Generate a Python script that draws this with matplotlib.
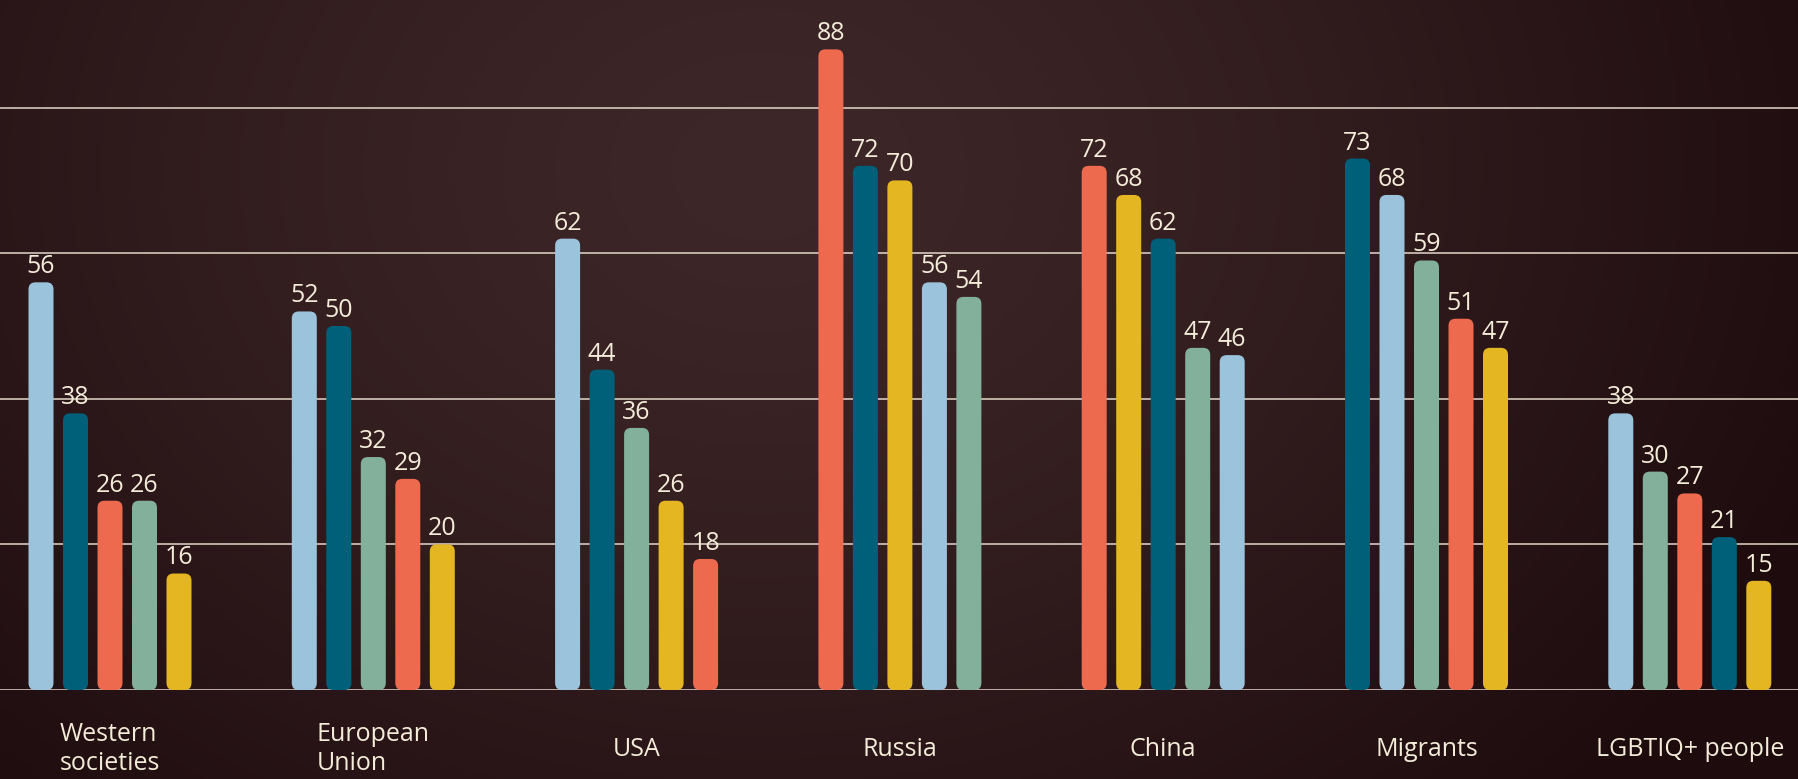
import numpy as np
import matplotlib.pyplot as plt
from matplotlib.patches import FancyBboxPatch

# Données
categories = ["Western\nsocieties", "European\nUnion", "USA", "Russia",
              "China", "Migrants", "LGBTIQ+ people"]
light_blue = [56, 52, 62, 56, 46, 68, 38]
teal = [38, 50, 44, 72, 62, 73, 21]
coral = [26, 29, 18, 88, 72, 51, 27]
sage = [26, 32, 36, 54, 47, 59, 30]
mustard = [16, 20, 26, 70, 68, 47, 15]
grid_values = [0, 20, 40, 60, 80]

series = [light_blue, teal, coral, sage, mustard]
colors = ["#9cc3dc", "#00607a", "#ee6a4e", "#82b09a", "#e3b622"]

W, H, DPI = 1798, 779, 100
px_x = 263.3   # pixels par groupe
px_y = 7.28    # pixels par unité
base_px = 690

plt.rcParams['font.family'] = ['Open Sans', 'DejaVu Sans']
fig = plt.figure(figsize=(W / DPI, H / DPI), dpi=DPI)

# Fond : dégradé radial
bg = fig.add_axes([0, 0, 1, 1])
yy, xx = np.mgrid[0:H, 0:W]
d = np.sqrt(((xx - 760) / 1150) ** 2 + ((yy - 170) / 900) ** 2)
d = np.clip(d, 0, 1)
c_in = np.array([0x3e, 0x27, 0x29]) / 255
c_out = np.array([0x1d, 0x0b, 0x0d]) / 255
img = c_in[None, None, :] * (1 - d[..., None] ** 1.3) + c_out[None, None, :] * d[..., None] ** 1.3
bg.imshow(img, aspect='auto', extent=[0, W, H, 0])
bg.set_axis_off()

# Axe principal
ax = fig.add_axes([0, 1 - base_px / H, 1, base_px / H])
ax.set_facecolor('none')
ax.set_xlim(-110 / px_x, (W - 110) / px_x)
ax.set_ylim(0, base_px / px_y)
ax.set_axis_off()

for g in grid_values:
    ax.axhline(g, color="#e2d8ca", linewidth=1.1, zorder=1)

step = 34.5 / px_x
width = 25 / px_x
radius = 7 / px_x
aspect = px_x / px_y
txt_color = "#f3ecd9"

for i, cat in enumerate(categories):
    vals = [s[i] for s in series]
    order = sorted(range(len(series)), key=lambda k: -vals[k])
    for j, k in enumerate(order):
        xc = i + (j - 2) * step
        v = vals[k]
        p = FancyBboxPatch((xc - width / 2, 0), width, v,
                           boxstyle=f"round,pad=0,rounding_size={radius}",
                           mutation_aspect=aspect,
                           facecolor=colors[k], edgecolor='none', zorder=3)
        ax.add_patch(p)
        ax.annotate(str(v), (xc, v), xytext=(0, 6.5), textcoords='offset points',
                    ha='center', va='baseline', fontsize=18, color=txt_color, zorder=4)
    ax.text(i, -59 / px_y, cat, ha='center', va='center', multialignment='left',
            fontsize=18, color=txt_color, linespacing=1.25, clip_on=False)

fig.savefig("out.png", dpi=DPI)
